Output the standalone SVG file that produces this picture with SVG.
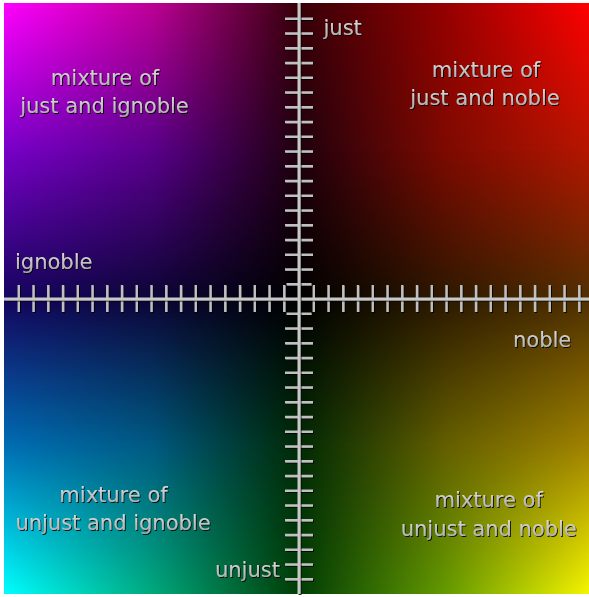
<svg xmlns="http://www.w3.org/2000/svg" width="589" height="597" viewBox="0 0 589 597">
<defs>
<style>
.lbl{font-family:"DejaVu Sans","Liberation Sans",sans-serif;font-size:21px;fill:url(#metal);filter:url(#emb)}
.mid{text-anchor:middle}
.ax{stroke:#c8c8c8;stroke-width:3;fill:none;filter:url(#emb)}
.tk{stroke:#c0c0c0;stroke-width:2.4;fill:none;filter:url(#emb)}
</style>
<linearGradient id="metal" x1="0" y1="0" x2="0" y2="1">
<stop offset="0" stop-color="#e2e2e2"/>
<stop offset="1" stop-color="#a6a6a6"/>
</linearGradient>
<filter id="emb" filterUnits="userSpaceOnUse" x="0" y="0" width="589" height="597">
<feOffset in="SourceAlpha" dx="0.8" dy="1" result="o"/>
<feGaussianBlur in="o" stdDeviation="0.6" result="b"/>
<feFlood flood-color="#000" flood-opacity="0.85"/>
<feComposite in2="b" operator="in" result="s"/>
<feMerge><feMergeNode in="s"/><feMergeNode in="SourceGraphic"/></feMerge>
</filter>
<linearGradient id="r0" gradientUnits="userSpaceOnUse" x1="4" y1="0" x2="589" y2="0">
<stop offset="0" stop-color="rgb(255,0,255)"/>
<stop offset="0.252" stop-color="rgb(190,0,150)"/>
<stop offset="0.504" stop-color="rgb(55,0,8)"/>
<stop offset="0.756" stop-color="rgb(150,0,0)"/>
<stop offset="1" stop-color="rgb(255,0,0)"/>
</linearGradient>
<linearGradient id="r1" gradientUnits="userSpaceOnUse" x1="4" y1="0" x2="589" y2="0">
<stop offset="0" stop-color="rgb(120,0,200)"/>
<stop offset="0.252" stop-color="rgb(90,0,140)"/>
<stop offset="0.504" stop-color="rgb(32,0,14)"/>
<stop offset="0.756" stop-color="rgb(125,10,0)"/>
<stop offset="1" stop-color="rgb(180,22,0)"/>
</linearGradient>
<linearGradient id="r2" gradientUnits="userSpaceOnUse" x1="4" y1="0" x2="589" y2="0">
<stop offset="0" stop-color="rgb(20,5,95)"/>
<stop offset="0.252" stop-color="rgb(12,5,55)"/>
<stop offset="0.504" stop-color="rgb(0,0,0)"/>
<stop offset="0.756" stop-color="rgb(45,25,0)"/>
<stop offset="1" stop-color="rgb(80,48,0)"/>
</linearGradient>
<linearGradient id="r3" gradientUnits="userSpaceOnUse" x1="4" y1="0" x2="589" y2="0">
<stop offset="0" stop-color="rgb(0,110,180)"/>
<stop offset="0.252" stop-color="rgb(0,90,130)"/>
<stop offset="0.504" stop-color="rgb(0,42,4)"/>
<stop offset="0.756" stop-color="rgb(100,95,0)"/>
<stop offset="1" stop-color="rgb(160,130,0)"/>
</linearGradient>
<linearGradient id="r4" gradientUnits="userSpaceOnUse" x1="4" y1="0" x2="589" y2="0">
<stop offset="0" stop-color="rgb(0,255,255)"/>
<stop offset="0.252" stop-color="rgb(0,170,125)"/>
<stop offset="0.504" stop-color="rgb(0,62,5)"/>
<stop offset="0.756" stop-color="rgb(100,155,0)"/>
<stop offset="1" stop-color="rgb(245,245,0)"/>
</linearGradient>
<linearGradient id="v0" gradientUnits="userSpaceOnUse" x1="0" y1="3" x2="0" y2="151"><stop offset="0" stop-color="#fff" stop-opacity="0"/><stop offset="1" stop-color="#fff" stop-opacity="1"/></linearGradient>
<linearGradient id="v1" gradientUnits="userSpaceOnUse" x1="0" y1="151" x2="0" y2="299"><stop offset="0" stop-color="#fff" stop-opacity="0"/><stop offset="1" stop-color="#fff" stop-opacity="1"/></linearGradient>
<linearGradient id="v2" gradientUnits="userSpaceOnUse" x1="0" y1="299" x2="0" y2="446"><stop offset="0" stop-color="#fff" stop-opacity="0"/><stop offset="1" stop-color="#fff" stop-opacity="1"/></linearGradient>
<linearGradient id="v3" gradientUnits="userSpaceOnUse" x1="0" y1="446" x2="0" y2="594"><stop offset="0" stop-color="#fff" stop-opacity="0"/><stop offset="1" stop-color="#fff" stop-opacity="1"/></linearGradient>
<mask id="m0" style="mask-type:alpha" maskUnits="userSpaceOnUse" x="0" y="0" width="589" height="597"><rect x="0" y="3" width="589" height="148" fill="url(#v0)"/></mask>
<mask id="m1" style="mask-type:alpha" maskUnits="userSpaceOnUse" x="0" y="0" width="589" height="597"><rect x="0" y="151" width="589" height="148" fill="url(#v1)"/></mask>
<mask id="m2" style="mask-type:alpha" maskUnits="userSpaceOnUse" x="0" y="0" width="589" height="597"><rect x="0" y="299" width="589" height="147" fill="url(#v2)"/></mask>
<mask id="m3" style="mask-type:alpha" maskUnits="userSpaceOnUse" x="0" y="0" width="589" height="597"><rect x="0" y="446" width="589" height="148" fill="url(#v3)"/></mask>
</defs>
<g id="background">
<rect x="0" y="0" width="589" height="597" fill="#fff"/>
<rect x="4" y="3" width="585" height="148" fill="url(#r0)"/>
<rect x="4" y="3" width="585" height="148" fill="url(#r1)" mask="url(#m0)"/>
<rect x="4" y="151" width="585" height="148" fill="url(#r1)"/>
<rect x="4" y="151" width="585" height="148" fill="url(#r2)" mask="url(#m1)"/>
<rect x="4" y="299" width="585" height="147" fill="url(#r2)"/>
<rect x="4" y="299" width="585" height="147" fill="url(#r3)" mask="url(#m2)"/>
<rect x="4" y="446" width="585" height="148" fill="url(#r3)"/>
<rect x="4" y="446" width="585" height="148" fill="url(#r4)" mask="url(#m3)"/>
</g>
<g id="connectors">
<path class="tk" d="M18.75 285V312M33.5 285V312M48.25 285V312M63 285V312M77.75 285V312M92.5 285V312M107.25 285V312M122 285V312M136.75 285V312M151.5 285V312M166.25 285V312M181 285V312M195.75 285V312M210.5 285V312M225.25 285V312M240 285V312M254.75 285V312M269.5 285V312M284.25 285V312M313.75 285V312M328.5 285V312M343.25 285V312M358 285V312M372.75 285V312M387.5 285V312M402.25 285V312M417 285V312M431.75 285V312M446.5 285V312M461.25 285V312M476 285V312M490.75 285V312M505.5 285V312M520.25 285V312M535 285V312M549.75 285V312M564.5 285V312M579.25 285V312"/>
<path class="tk" d="M285 18.75H313M285 33.5H313M285 48.25H313M285 63H313M285 77.75H313M285 92.5H313M285 107.25H313M285 122H313M285 136.75H313M285 151.5H313M285 166.25H313M285 181H313M285 195.75H313M285 210.5H313M285 225.25H313M285 240H313M285 254.75H313M285 269.5H313M286.5 284.25H311.5M286.5 313.75H311.5M285 328.5H313M285 343.25H313M285 358H313M285 372.75H313M285 387.5H313M285 402.25H313M285 417H313M285 431.75H313M285 446.5H313M285 461.25H313M285 476H313M285 490.75H313M285 505.5H313M285 520.25H313M285 535H313M285 549.75H313M285 564.5H313M285 579.25H313"/>
<line id="axis-x" class="ax" x1="4" y1="299" x2="589" y2="299"/>
<line id="axis-y" class="ax" x1="299" y1="3" x2="299" y2="594"/>
</g>
<g id="label-just-ignoble"><text class="lbl mid" x="105" y="85">mixture of</text><text class="lbl mid" x="104.5" y="113">just and ignoble</text></g>
<g id="label-just-noble"><text class="lbl mid" x="486" y="77">mixture of</text><text class="lbl mid" x="485" y="105">just and noble</text></g>
<g id="label-unjust-ignoble"><text class="lbl mid" x="113.5" y="502">mixture of</text><text class="lbl mid" x="113" y="530">unjust and ignoble</text></g>
<g id="label-unjust-noble"><text class="lbl mid" x="488.7" y="507">mixture of</text><text class="lbl mid" x="488.7" y="536">unjust and noble</text></g>
<g id="label-just"><text class="lbl" x="323.5" y="35">just</text></g>
<g id="label-unjust"><text class="lbl" x="215" y="577">unjust</text></g>
<g id="label-noble"><text class="lbl" x="513" y="347">noble</text></g>
<g id="label-ignoble"><text class="lbl" x="15" y="269">ignoble</text></g>
</svg>
